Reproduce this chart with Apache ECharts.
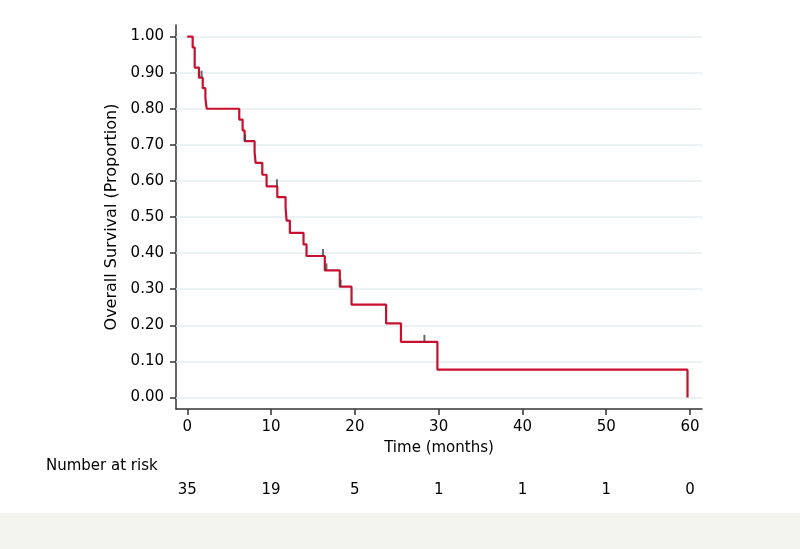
<!DOCTYPE html>
<html>
<head>
<meta charset="utf-8">
<script src="https://cdn.jsdelivr.net/npm/echarts@6/dist/echarts.min.js"></script>
<style>
  html, body { margin: 0; padding: 0; background: #fff; }
</style>
</head>
<body>
<!-- chart container -->
<div id="main" style="width: 800px;height: 549px;"></div>
<script>
// KM step curve: event times (months) and survival after each step
var kmTimes = [0, 0.64, 0.88, 1.39, 1.84, 2.16, 2.31, 6.2, 6.6, 6.84, 8.03, 8.15, 8.95, 9.46,
  10.74, 11.73, 11.85, 12.24, 13.87, 14.23, 16.41, 18.2, 19.6, 23.73, 25.5, 29.85, 59.7]
var kmSurv = [1.0, 0.97, 0.914, 0.886, 0.857, 0.829, 0.8, 0.77, 0.74, 0.71, 0.68, 0.65, 0.617, 0.585,
  0.555, 0.525, 0.49, 0.456, 0.424, 0.392, 0.352, 0.307, 0.257, 0.205, 0.154, 0.077, 0]
// censored observations
var censorTimes = [1.7, 6.9, 10.7, 16.2, 16.6, 18.3, 28.3]
var censorSurv = [0.886, 0.71, 0.585, 0.392, 0.352, 0.307, 0.154]
// axis ticks
var xTicks = [0, 10, 20, 30, 40, 50, 60]
var yTicks = [0, 0.1, 0.2, 0.3, 0.4, 0.5, 0.6, 0.7, 0.8, 0.9, 1.0]
// number at risk
var riskTimes = [0, 10, 20, 30, 40, 50, 60]
var riskCounts = [35, 19, 5, 1, 1, 1, 0]

var FONT = 'DejaVu Sans'
var AXIS_COLOR = '#333'

var myChart = echarts.init(document.getElementById('main'))

var kmData = kmTimes.map(function (t, i) { return [t, kmSurv[i]] })
var censorData = censorTimes.map(function (t, i) { return [t, censorSurv[i]] })

var option = {
  animation: false,
  backgroundColor: '#fff',
  grid: { left: 176, top: 25, right: 98, bottom: 140, containLabel: false },
  xAxis: [{
    type: 'value',
    min: -1.35,
    max: 61.43,
    name: 'Time (months)',
    nameLocation: 'middle',
    nameGap: 32,
    nameTextStyle: { color: '#000', fontFamily: FONT, fontSize: 15 },
    axisLine: { show: true, onZero: false, lineStyle: { color: AXIS_COLOR, width: 1.5 } },
    axisTick: { show: true, length: 6, customValues: xTicks, lineStyle: { color: AXIS_COLOR, width: 1.5 } },
    axisLabel: { customValues: xTicks, margin: 11, color: '#000', fontFamily: FONT, fontSize: 15 },
    splitLine: { show: false }
  }, {
    // number-at-risk row, shares the time scale
    type: 'value',
    min: -1.35,
    max: 61.43,
    position: 'bottom',
    offset: 66,
    axisLine: { show: false },
    axisTick: { show: false },
    axisLabel: {
      customValues: riskTimes,
      margin: 8,
      color: '#000',
      fontFamily: FONT,
      fontSize: 15,
      formatter: function (v) { return String(riskCounts[riskTimes.indexOf(v)]) }
    },
    splitLine: { show: false }
  }],
  yAxis: {
    type: 'value',
    min: -0.032,
    max: 1.032,
    name: 'Overall Survival (Proportion)',
    nameLocation: 'middle',
    nameGap: 53,
    nameTextStyle: { color: '#000', fontFamily: FONT, fontSize: 16 },
    axisLine: { show: true, onZero: false, lineStyle: { color: AXIS_COLOR, width: 1.5 } },
    axisTick: { show: true, length: 6, customValues: yTicks, lineStyle: { color: AXIS_COLOR, width: 1.5 } },
    axisLabel: {
      customValues: yTicks,
      margin: 12,
      color: '#000',
      fontFamily: FONT,
      fontSize: 15,
      formatter: function (v) { return v.toFixed(2) }
    },
    splitLine: { show: false }
  },
  graphic: [
    {
      type: 'text',
      left: 46,
      top: 459,
      style: { text: 'Number at risk', fill: '#000', font: '15px "DejaVu Sans"' }
    },
    {
      type: 'rect',
      left: 0,
      top: 513,
      shape: { width: 800, height: 36 },
      style: { fill: '#f4f4ef' },
      z: -1
    }
  ],
  series: [
    {
      // horizontal grid lines, kept under the curve
      type: 'line',
      data: [],
      z: 1,
      markLine: {
        silent: true,
        z: 1,
        symbol: 'none',
        label: { show: false },
        lineStyle: { color: '#e6eef1', type: 'solid', width: 1.5 },
        data: yTicks.map(function (v) { return { yAxis: v } })
      }
    },
    {
      name: 'KM',
      type: 'line',
      step: 'end',
      data: kmData,
      showSymbol: false,
      z: 3,
      lineStyle: { color: '#c8102e', width: 2.2 }
    },
    {
      name: 'censored',
      type: 'scatter',
      data: censorData,
      symbol: 'rect',
      symbolSize: [2, 7],
      symbolOffset: [0, -3.5],
      z: 4,
      itemStyle: { color: '#444' }
    }
  ]
}
myChart.setOption(option)
</script>
</body>
</html>
